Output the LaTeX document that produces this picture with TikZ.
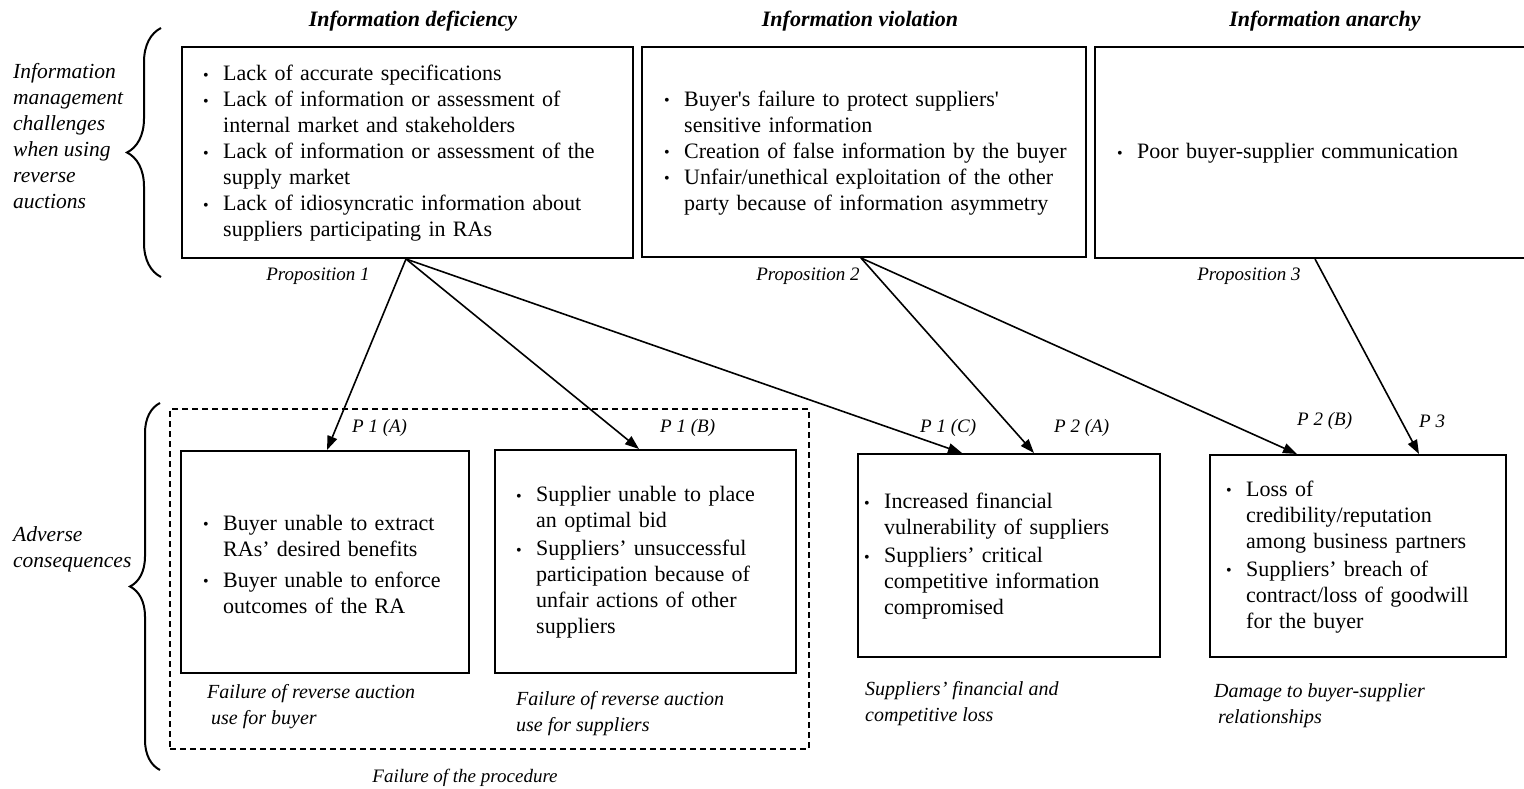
\documentclass[tikz,border=0pt]{standalone}
\usepackage{fontspec}
\setmainfont{Liberation Serif}
\newfontfamily\sqfont{Liberation Serif}[Ligatures=TeXOff]
\newcommand\sq{{\sqfont'}}
\usetikzlibrary{arrows.meta,decorations.pathreplacing,calc}
\newcommand\bitem[1]{\par\hangindent=20pt\hangafter=1\noindent\makebox[20pt][l]{\raisebox{0.5pt}{\fontsize{16}{16}\selectfont •}}#1}
\tikzset{
  box/.style={draw, line width=2pt, inner sep=0pt},
  btext/.style={anchor=west, inner sep=0pt, text width=520pt, align=left, yshift=4.5pt,
    font=\fontsize{22}{26}\selectfont},
  head/.style={font=\fontsize{22}{26}\selectfont\bfseries\itshape, inner sep=0pt},
  lab/.style={font=\fontsize{19}{22}\selectfont\itshape, inner sep=0pt},
  capt/.style={font=\fontsize{20}{26}\selectfont\itshape, inner sep=0pt, anchor=west, align=left},
  side/.style={font=\fontsize{21.5}{26}\selectfont\itshape, inner sep=0pt, anchor=west, align=left},
  conn/.style={line width=1.6pt, -{Triangle[length=14pt,width=10pt]}},
  brc/.style={line width=2pt, decorate},
}
\begin{document}
\begin{tikzpicture}[x=1pt,y=-1pt]
\useasboundingbox[fill=white] (0,0) rectangle (1524,789);

% headings
\node[head] (h1) at (413,21) {Information deficiency};
\node[head] (h2) at (860,21) {Information violation};
\node[head] (h3) at (1325,21) {Information anarchy};

% side labels
\node[side] (s1) at (13,136) {Information\\management\\challenges\\when using\\reverse\\auctions};
\node[side] (s2) at (13,549) {Adverse\\consequences};
\draw[brc, decoration={brace, amplitude=34pt}] (161,277) -- (161,28);
\draw[brc, decoration={brace, amplitude=30pt}] (160,770) -- (160,403);

% top boxes
\node[box, minimum width=451pt, minimum height=211pt] (b1) at (407.5,152.5) {};
\node[box, minimum width=444pt, minimum height=210pt] (b2) at (864,152) {};
\node[box, minimum width=440pt, minimum height=211pt] (b3) at (1315,152.5) {};

\node[btext] (t1) at ($(b1.west)+(22,0)$) {%
\bitem{Lack of accurate specifications}
\bitem{Lack of information or assessment of\newline internal market and stakeholders}
\bitem{Lack of information or assessment of the\newline supply market}
\bitem{Lack of idiosyncratic information about\newline suppliers participating in RAs}\par};

\node[btext] (t2) at ($(b2.west)+(23,0)$) {%
\bitem{Buyer\sq s failure to protect suppliers\sq\newline sensitive information}
\bitem{Creation of false information by the buyer}
\bitem{Unfair/unethical exploitation of the other\newline party because of information asymmetry}\par};

\node[btext] (t3) at ($(b3.west)+(23,0)$) {%
\bitem{Poor buyer-supplier communication}\par};

% dashed frame
\node[draw, dashed, line width=1.5pt, dash pattern=on 6pt off 4pt, inner sep=0pt,
  minimum width=639pt, minimum height=340pt] (fr) at (489.5,579) {};

% bottom boxes
\node[box, minimum width=288pt, minimum height=222pt] (bA) at (325,562) {};
\node[box, minimum width=301pt, minimum height=223pt] (bB) at (645.5,561.5) {};
\node[box, minimum width=302pt, minimum height=203pt] (bC) at (1009,555.5) {};
\node[box, minimum width=296pt, minimum height=202pt] (bD) at (1358,556) {};

\node[btext, yshift=1pt] (tA) at ($(bA.west)+(23,0)$) {\setlength\parskip{5pt}%
\bitem{Buyer unable to extract\newline RAs’ desired benefits}
\bitem{Buyer unable to enforce\newline outcomes of the RA}\par};

\node[btext, yshift=1pt] (tB) at ($(bB.west)+(22,0)$) {\setlength\parskip{2pt}%
\bitem{Supplier unable to place\newline an optimal bid}
\bitem{Suppliers’ unsuccessful\newline participation because of\newline unfair actions of other\newline suppliers}\par};

\node[btext, yshift=1pt] (tC) at ($(bC.west)+(7,0)$) {\setlength\parskip{2pt}%
\bitem{Increased financial\newline vulnerability of suppliers}
\bitem{Suppliers’ critical\newline competitive information\newline compromised}\par};

\node[btext, yshift=1pt] (tD) at ($(bD.west)+(17,0)$) {\setlength\parskip{2pt}%
\bitem{Loss of\newline credibility/reputation\newline among business partners}
\bitem{Suppliers’ breach of\newline contract/loss of goodwill\newline for the buyer}\par};

% connector end points
\coordinate (o1) at ($(b1.south west)+(225,0)$);
\coordinate (o2) at ($(b2.south west)+(220,0)$);
\coordinate (o3) at ($(b3.south west)+(221,0)$);
\coordinate (eA) at ($(bA.north west)+(147,0)$);
\coordinate (eB) at ($(bB.north west)+(145,0)$);
\coordinate (eC1) at ($(bC.north west)+(105,0)$);
\coordinate (eC2) at ($(bC.north west)+(177,0)$);
\coordinate (eD1) at ($(bD.north west)+(88,0)$);
\coordinate (eD2) at ($(bD.north west)+(210,0)$);

\draw[conn] (o1) -- (eA);
\draw[conn] (o1) -- (eB);
\draw[conn] (o1) -- (eC1);
\draw[conn] (o2) -- (eC2);
\draw[conn] (o2) -- (eD1);
\draw[conn] (o3) -- (eD2);

% proposition labels
\node[lab] (p1) at (318,276) {Proposition 1};
\node[lab] (p2) at (808,276) {Proposition 2};
\node[lab] (p3) at (1249,276) {Proposition 3};

\node[lab, anchor=west] (lA) at (352,428) {P 1 (A)};
\node[lab, anchor=west] (lB) at (660,428) {P 1 (B)};
\node[lab, anchor=west] (lC) at (920,428) {P 1 (C)};
\node[lab, anchor=west] (lC2) at (1054,428) {P 2 (A)};
\node[lab, anchor=west] (lD) at (1297,421) {P 2 (B)};
\node[lab, anchor=west] (lD2) at (1419,421) {P 3};

% captions
\node[capt] (cA) at (207,707) {Failure of reverse auction\\\hspace{4pt}use for buyer};
\node[capt] (cB) at (516,714) {Failure of reverse auction\\use for suppliers};
\node[capt] (cC) at (865,704) {Suppliers’ financial and\\competitive loss};
\node[capt] (cD) at (1214,706) {Damage to buyer-supplier\\\hspace{4pt}relationships};
\node[lab] (cF) at (465,778) {Failure of the procedure};
\end{tikzpicture}
\end{document}
